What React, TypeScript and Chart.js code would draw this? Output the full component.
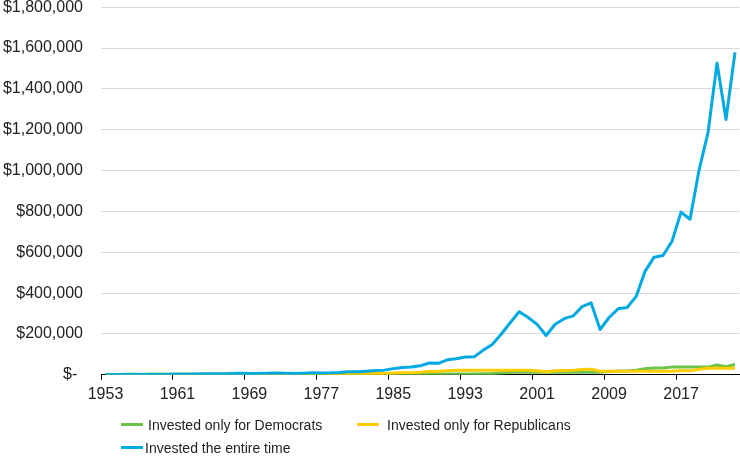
import React, { useEffect, useRef } from "react";
import { Chart, registerables } from "chart.js";

Chart.register(...registerables);

const years: string[] = [
  "1953", "1954", "1955", "1956", "1957", "1958", "1959", "1960",
  "1961", "1962", "1963", "1964", "1965", "1966", "1967", "1968",
  "1969", "1970", "1971", "1972", "1973", "1974", "1975", "1976",
  "1977", "1978", "1979", "1980", "1981", "1982", "1983", "1984",
  "1985", "1986", "1987", "1988", "1989", "1990", "1991", "1992",
  "1993", "1994", "1995", "1996", "1997", "1998", "1999", "2000",
  "2001", "2002", "2003", "2004", "2005", "2006", "2007", "2008",
  "2009", "2010", "2011", "2012", "2013", "2014", "2015", "2016",
  "2017", "2018", "2019", "2020", "2021", "2022", "2023",
];

const democratsOnly: number[] = [
  1000, 1000, 1000, 1000, 1000, 1000, 1000, 1000,
  1269, 1159, 1423, 1657, 1864, 1676, 2078, 2309,
  2309, 2309, 2309, 2309, 2309, 2309, 2309, 2309,
  2143, 2284, 2704, 3580, 3580, 3580, 3580, 3580,
  3580, 3580, 3580, 3580, 3580, 3580, 3580, 3580,
  3942, 3993, 5494, 6758, 9015, 11593, 14028, 12751,
  12751, 12751, 12751, 12751, 12751, 12751, 12751, 12751,
  16130, 18566, 18956, 21989, 29113, 33102, 33565, 37593,
  37593, 37593, 37593, 37593, 48382, 39625, 50046,
];

const republicansOnly: number[] = [
  1000, 1526, 2008, 2141, 1909, 2738, 3066, 3082,
  3082, 3082, 3082, 3082, 3082, 3082, 3082, 3082,
  2820, 2933, 3352, 3989, 3403, 2501, 3431, 4248,
  4248, 4248, 4248, 4248, 4040, 4904, 6008, 6386,
  8442, 10004, 10524, 12292, 16164, 15663, 20440, 21994,
  21994, 21994, 21994, 21994, 21994, 21994, 21994, 21994,
  19377, 15095, 19427, 21545, 22601, 26172, 27611, 17395,
  17395, 17395, 17395, 17395, 17395, 17395, 17395, 17395,
  21187, 20255, 26635, 31536, 31536, 31536, 31536,
];

const entireTime: number[] = [
  1000, 1526, 2008, 2141, 1909, 2738, 3066, 3082,
  3911, 3571, 4385, 5108, 5747, 5166, 6406, 7117,
  6512, 6773, 7741, 9212, 7858, 5776, 7924, 9810,
  9103, 9704, 11490, 15212, 14467, 17563, 21514, 22870,
  30234, 35827, 37690, 44022, 57889, 56095, 73203, 78766,
  86721, 87849, 120880, 148682, 198342, 255068, 308632, 280547,
  247162, 192539, 247798, 274808, 288273, 333820, 352180, 221873,
  280670, 323051, 329835, 382609, 506574, 575975, 584039, 654124,
  796723, 761667, 1001592, 1185885, 1526234, 1250026, 1578783,
];

const seriesNames: string[] = [
  "Invested only for Democrats",
  "Invested only for Republicans",
  "Invested the entire time",
];

const GREEN = "#6cc24a";
const YELLOW = "#ffcd00";
const BLUE = "#00a9e0";
const FONT = "'Liberation Sans', Arial, sans-serif";
const TEXT = "#222222";

export default function App() {
  const canvasRef = useRef<HTMLCanvasElement | null>(null);

  useEffect(() => {
    const canvas = canvasRef.current;
    if (!canvas) return;
    const chart = new Chart(canvas, {
      type: "line",
      data: {
        labels: years,
        datasets: [
          {
            label: seriesNames[0],
            data: democratsOnly,
            borderColor: GREEN,
            backgroundColor: GREEN,
            borderWidth: 3,
            pointRadius: 0,
            tension: 0,
            borderJoinStyle: "round",
            order: 2,
          },
          {
            label: seriesNames[1],
            data: republicansOnly,
            borderColor: YELLOW,
            backgroundColor: YELLOW,
            borderWidth: 3,
            pointRadius: 0,
            tension: 0,
            borderJoinStyle: "round",
            order: 1,
          },
          {
            label: seriesNames[2],
            data: entireTime,
            borderColor: BLUE,
            backgroundColor: BLUE,
            borderWidth: 3,
            pointRadius: 0,
            tension: 0,
            borderJoinStyle: "round",
            order: 0,
          },
        ],
      },
      options: {
        responsive: false,
        animation: false,
        events: [],
        layout: { padding: { left: 0, right: 0, top: 0, bottom: 47 } },
        plugins: {
          legend: { display: false },
          tooltip: { enabled: false },
        },
        scales: {
          x: {
            type: "category",
            offset: true,
            grid: {
              offset: true,
              drawOnChartArea: false,
              drawTicks: true,
              tickLength: 5,
              lineWidth: 1,
              color: (ctx: any) =>
                ctx.index % 8 === 0 ? "#000000" : "rgba(0,0,0,0)",
            },
            border: { display: true, color: "#000000", width: 1 },
            ticks: {
              autoSkip: false,
              maxRotation: 0,
              minRotation: 0,
              padding: 5,
              color: TEXT,
              font: { family: FONT, size: 16 },
              callback: (_v: any, i: number) => (i % 8 === 0 ? years[i] : ""),
            },
          },
          y: {
            min: 0,
            max: 1800000,
            afterFit: (s: any) => {
              s.width = 101;
            },
            grid: {
              color: "#d9d9d9",
              drawTicks: true,
              tickLength: 18,
              tickColor: "rgba(0,0,0,0)",
              lineWidth: 1,
            },
            border: { display: false },
            ticks: {
              stepSize: 200000,
              padding: 0,
              color: TEXT,
              font: { family: FONT, size: 16, lineHeight: 0.9 },
              callback: (v: any) =>
                Number(v) === 0
                  ? "$- \u200A"
                  : "$" + Number(v).toLocaleString("en-US"),
            },
          },
        },
      },
    });
    return () => chart.destroy();
  }, []);

  const legendText: React.CSSProperties = {
    position: "absolute",
    fontFamily: FONT,
    fontSize: 14,
    lineHeight: "16px",
    color: TEXT,
    whiteSpace: "nowrap",
  };
  const swatch = (color: string, left: number, top: number): React.CSSProperties => ({
    position: "absolute",
    left,
    top,
    width: 22,
    height: 3,
    background: color,
  });

  return (
    <div
      style={{
        position: "fixed",
        left: 0,
        top: 0,
        width: 740,
        height: 456,
        overflow: "hidden",
        background: "#ffffff",
      }}
    >
      <canvas ref={canvasRef} width={740} height={456} style={{ display: "block" }} />
      <div style={swatch(GREEN, 121, 423)} />
      <div style={{ ...legendText, left: 148, top: 417 }}>{seriesNames[0]}</div>
      <div style={swatch(YELLOW, 357, 423)} />
      <div style={{ ...legendText, left: 387, top: 417 }}>{seriesNames[1]}</div>
      <div style={swatch(BLUE, 121, 446)} />
      <div style={{ ...legendText, left: 145, top: 439.5 }}>{seriesNames[2]}</div>
    </div>
  );
}
